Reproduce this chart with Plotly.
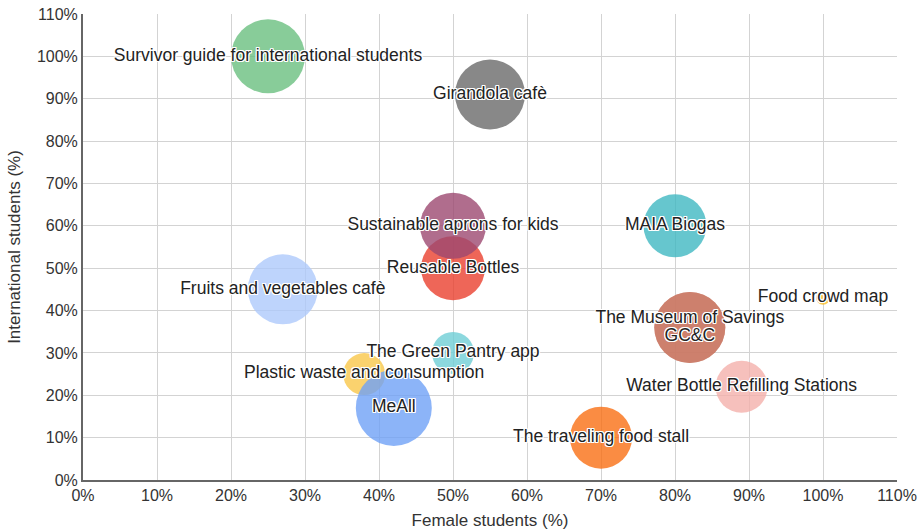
import plotly.graph_objects as go

projects = [
    "Survivor guide for international students",
    "Girandola cafè",
    "Reusable Bottles",
    "Sustainable aprons for kids",
    "MAIA Biogas",
    "Fruits and vegetables cafè",
    "The Green Pantry app",
    "Plastic waste and consumption",
    "MeAll",
    "The traveling food stall",
    "The Museum of Savings",
    "GC&C",
    "Water Bottle Refilling Stations",
    "Food crowd map",
]
female_share = [0.25, 0.55, 0.50, 0.50, 0.80, 0.27, 0.50, 0.38, 0.42, 0.70, 0.82, 0.82, 0.89, 1.00]
international_share = [1.00, 0.91, 0.50, 0.60, 0.60, 0.45, 0.30, 0.25, 0.17, 0.10, 0.36, 0.36, 0.22, 0.43]
bubble_value = [37, 35, 32, 33, 31.5, 35, 21, 21, 38, 31, 35.5, 35.5, 26, 7]

colors = [
    "rgb(106,191,128)",
    "rgb(106,106,106)",
    "rgb(234,64,46)",
    "rgb(156,72,112)",
    "rgb(64,184,194)",
    "rgb(174,201,251)",
    "rgb(111,206,214)",
    "rgb(249,199,74)",
    "rgb(111,161,246)",
    "rgb(249,111,20)",
    "rgb(203,123,102)",
    "rgb(203,123,102)",
    "rgb(244,176,171)",
    "rgb(250,190,40)",
]
label_pos = ["middle center"] * len(projects)
label_pos[10] = "top center"
label_pos[11] = "bottom center"

tick_vals = [i / 10 for i in range(12)]
tick_text = [f"{i * 10}%" for i in range(12)]

FONT = "Liberation Sans, Arial"

fig = go.Figure()
fig.add_trace(go.Scatter(
    x=female_share, y=international_share, mode="markers",
    marker=dict(size=bubble_value, sizemode="diameter", sizeref=0.5,
                color=colors, opacity=0.8, line=dict(width=0)),
    hoverinfo="skip", showlegend=False,
))
halo = ("white 1px 1px 0px, white -1px -1px 0px, white 1px -1px 0px, white -1px 1px 0px, "
        "white 0px 1px 0px, white 0px -1px 0px, white 1px 0px 0px, white -1px 0px 0px")
fig.add_trace(go.Scatter(
    x=female_share, y=international_share, mode="text", text=projects,
    textposition=label_pos,
    textfont=dict(family=FONT, size=17.5, color="#222", shadow=halo),
    hoverinfo="skip", showlegend=False,
))

axis_common = dict(
    range=[0, 1.1], tickvals=tick_vals, ticktext=tick_text, automargin=False,
    showgrid=True, gridcolor="#d3d3d3", gridwidth=1,
    zeroline=False, showline=True, linecolor="#666", linewidth=2,
    ticks="", tickfont=dict(family=FONT, size=16, color="#333"),
    title_font=dict(family=FONT, size=17, color="#333"),
)
fig.update_xaxes(**axis_common, title_text="Female students (%)", title_standoff=11)
fig.update_yaxes(**axis_common, title_text="International students (%)", title_standoff=12)

fig.update_layout(
    width=920, height=531,
    margin=dict(l=83, r=23, t=14, b=51),
    plot_bgcolor="white", paper_bgcolor="white",
)
fig.write_html("out.html", config={"displayModeBar": False},
               post_script="document.body.style.margin='0';")
